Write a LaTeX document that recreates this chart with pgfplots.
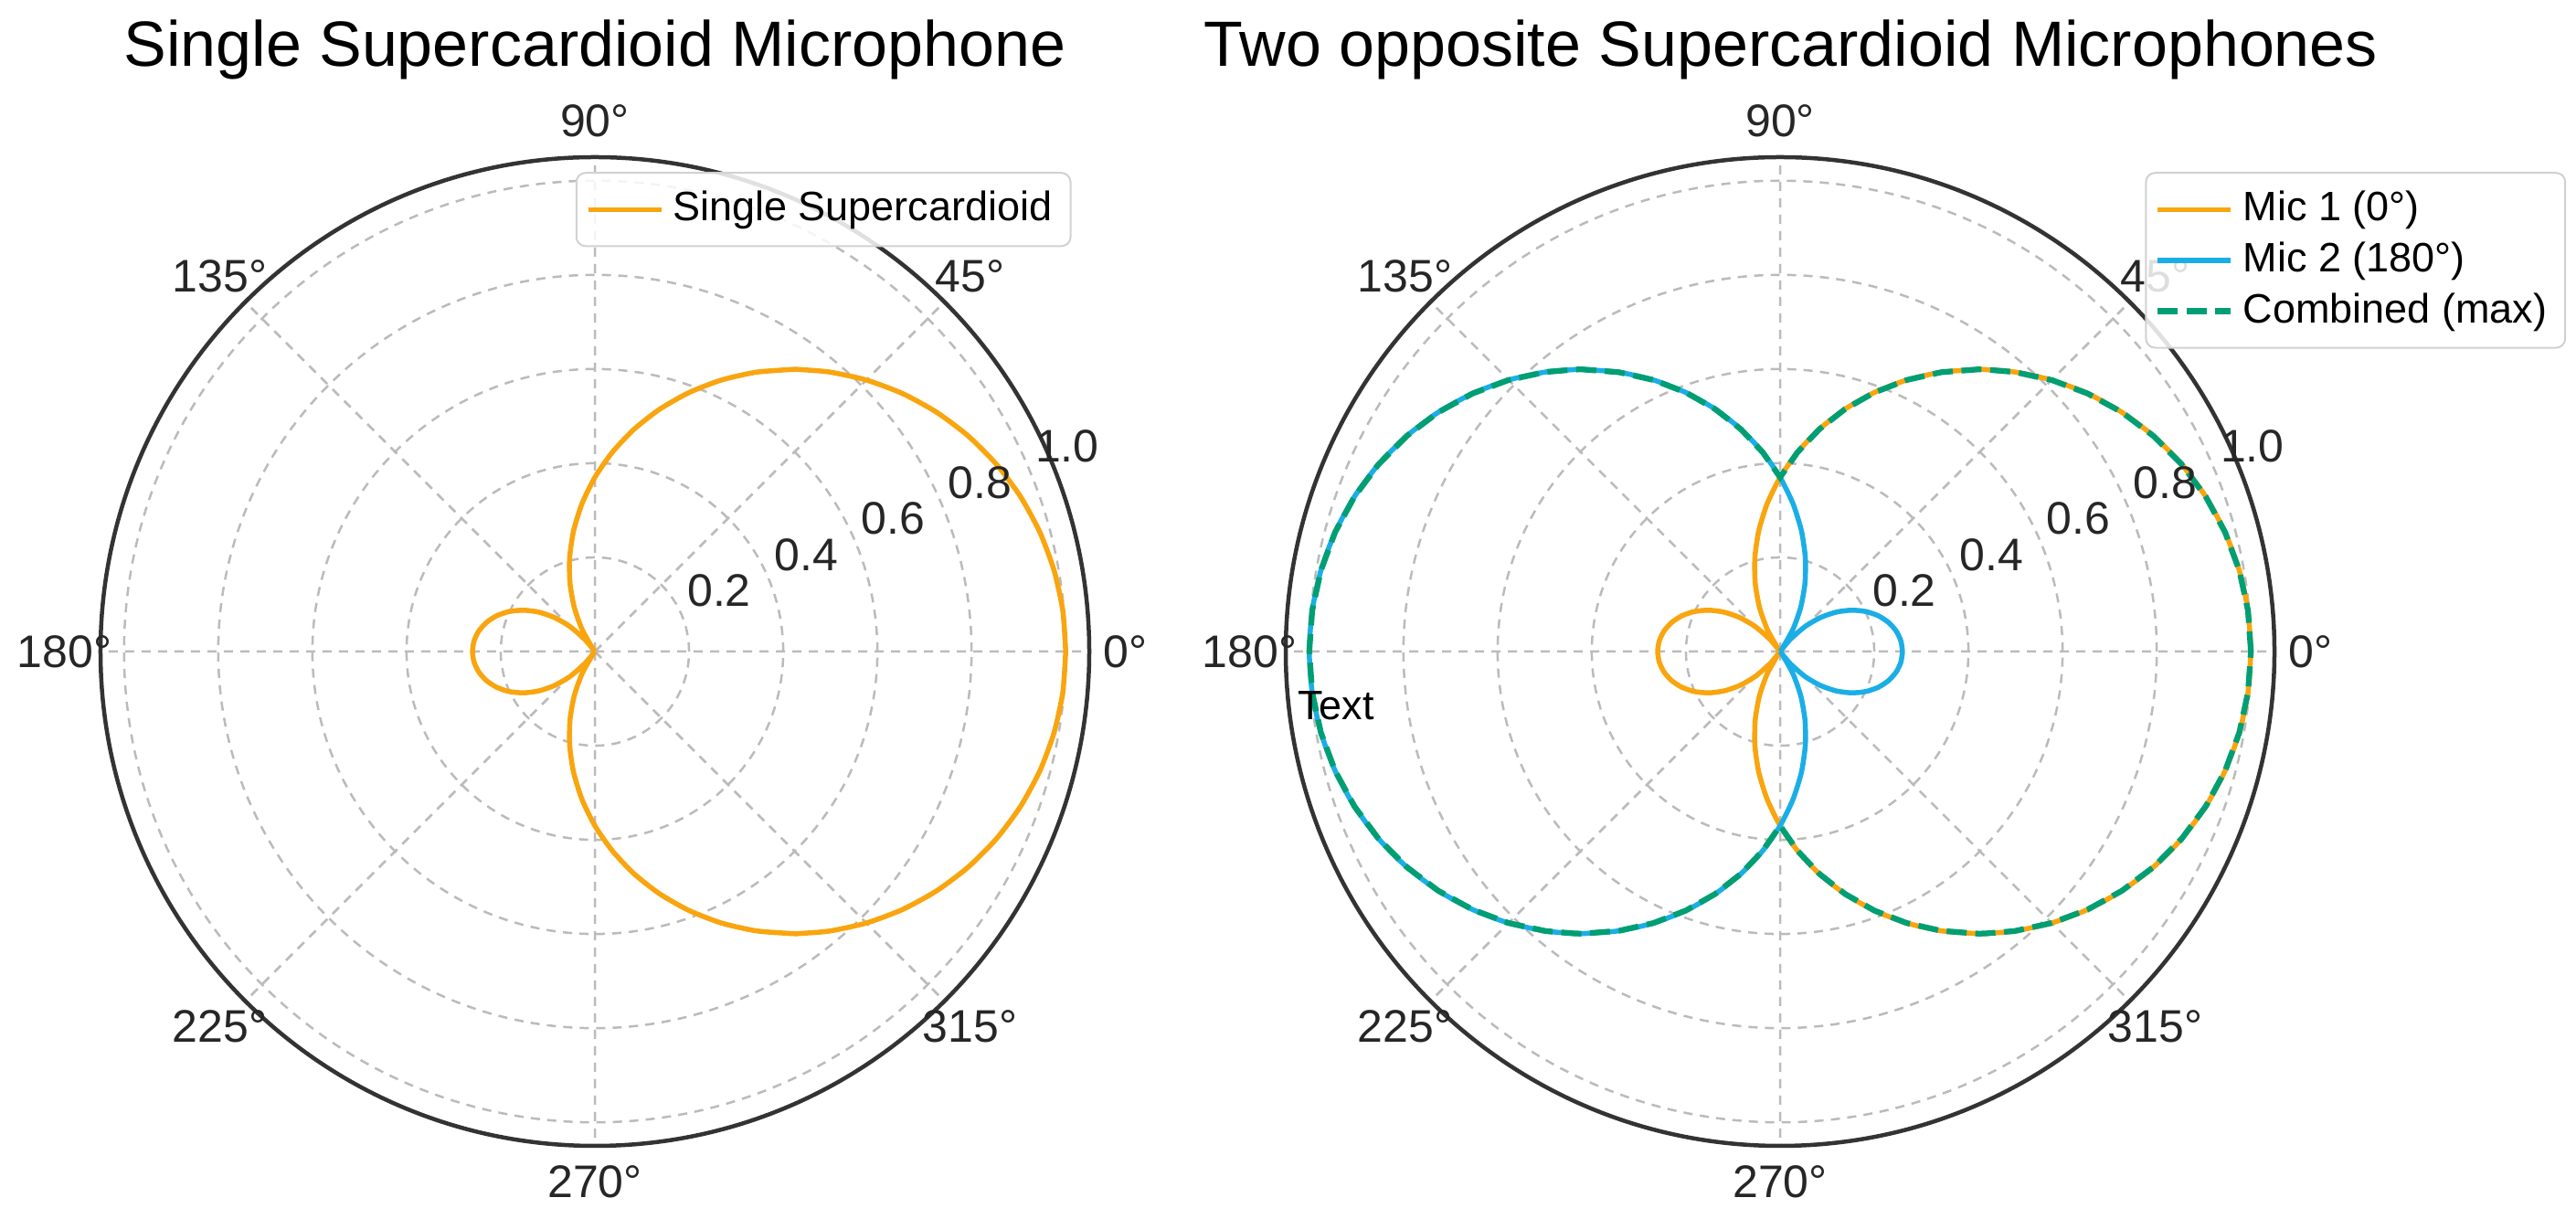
\documentclass[border=0pt]{standalone}
\usepackage{fontspec}
\setmainfont{Liberation Sans}
\usepackage{pgfplots}
\pgfplotsset{compat=1.18}
\usepackage{pgfplotstable}
\usepgfplotslibrary{polar}

\definecolor{micorange}{HTML}{F9A50F}
\definecolor{micblue}{HTML}{1BAEE6}
\definecolor{combgreen}{HTML}{009E73}
\definecolor{gridgray}{HTML}{BBBBBB}

% angle (deg), mic 1 (0 deg), mic 2 (180 deg), combined (max)
\pgfplotstableread{
a   m1     m2     comb
0   1.0000 0.2600 1.0000
5   0.9976 0.2576 0.9976
10  0.9904 0.2504 0.9904
15  0.9785 0.2385 0.9785
20  0.9620 0.2220 0.9620
25  0.9410 0.2010 0.9410
30  0.9156 0.1756 0.9156
35  0.8861 0.1461 0.8861
40  0.8526 0.1126 0.8526
45  0.8155 0.0755 0.8155
50  0.7750 0.0350 0.7750
54  0.7403 0.0000 0.7403
55  0.7314 0.0086 0.7314
60  0.6850 0.0550 0.6850
65  0.6363 0.1037 0.6363
70  0.5855 0.1545 0.5855
75  0.5331 0.2069 0.5331
80  0.4794 0.2606 0.4794
85  0.4249 0.3151 0.4249
90  0.3700 0.3700 0.3700
95  0.3151 0.4249 0.4249
100 0.2606 0.4794 0.4794
105 0.2069 0.5331 0.5331
110 0.1545 0.5855 0.5855
115 0.1037 0.6363 0.6363
120 0.0550 0.6850 0.6850
125 0.0086 0.7314 0.7314
126 0.0000 0.7403 0.7403
130 0.0350 0.7750 0.7750
135 0.0755 0.8155 0.8155
140 0.1126 0.8526 0.8526
145 0.1461 0.8861 0.8861
150 0.1756 0.9156 0.9156
155 0.2010 0.9410 0.9410
160 0.2220 0.9620 0.9620
165 0.2385 0.9785 0.9785
170 0.2504 0.9904 0.9904
175 0.2576 0.9976 0.9976
180 0.2600 1.0000 1.0000
185 0.2576 0.9976 0.9976
190 0.2504 0.9904 0.9904
195 0.2385 0.9785 0.9785
200 0.2220 0.9620 0.9620
205 0.2010 0.9410 0.9410
210 0.1756 0.9156 0.9156
215 0.1461 0.8861 0.8861
220 0.1126 0.8526 0.8526
225 0.0755 0.8155 0.8155
230 0.0350 0.7750 0.7750
234 0.0000 0.7403 0.7403
235 0.0086 0.7314 0.7314
240 0.0550 0.6850 0.6850
245 0.1037 0.6363 0.6363
250 0.1545 0.5855 0.5855
255 0.2069 0.5331 0.5331
260 0.2606 0.4794 0.4794
265 0.3151 0.4249 0.4249
270 0.3700 0.3700 0.3700
275 0.4249 0.3151 0.4249
280 0.4794 0.2606 0.4794
285 0.5331 0.2069 0.5331
290 0.5855 0.1545 0.5855
295 0.6363 0.1037 0.6363
300 0.6850 0.0550 0.6850
305 0.7314 0.0086 0.7314
306 0.7403 0.0000 0.7403
310 0.7750 0.0350 0.7750
315 0.8155 0.0755 0.8155
320 0.8526 0.1126 0.8526
325 0.8861 0.1461 0.8861
330 0.9156 0.1756 0.9156
335 0.9410 0.2010 0.9410
340 0.9620 0.2220 0.9620
345 0.9785 0.2385 0.9785
350 0.9904 0.2504 0.9904
355 0.9976 0.2576 0.9976
360 1.0000 0.2600 1.0000
}\pattern

\tikzset{
  rlab/.style={anchor=south west, inner sep=0pt, xshift=1pt, yshift=1.7pt,
    font=\fontsize{10}{12}\selectfont, text=black!85},
  alab/.style={anchor=center, inner sep=0pt,
    font=\fontsize{10}{12}\selectfont, text=black!85},
}
\pgfplotsset{
  micpolar/.style={
    anchor=center, scale only axis, width=216.4pt, height=216.4pt,
    xmin=0, xmax=360, ymin=0, ymax=1.05, clip=false,
    xtick={0,45,...,315}, xticklabels={},
    ytick={0.2,0.4,0.6,0.8,1.0}, yticklabels={},
    grid=major,
    major grid style={gridgray, line width=0.5pt, dash pattern=on 2pt off 1.6pt},
    major tick length=0pt,
    separate axis lines,
    x axis line style={black!80, line width=0.9pt},
    y axis line style={draw=none},
    legend cell align=left,
    legend style={font=\fontsize{9}{11}\selectfont, draw=black!18,
      rounded corners=2pt, fill=white, fill opacity=0.85, text opacity=1,
      anchor=north east, row sep=-0.9pt, inner xsep=2pt, inner ysep=2pt},
    legend image code/.code={\draw[#1] (0pt,0pt) -- (16pt,0pt);},
  },
}

\begin{document}
\begin{tikzpicture}
\path[use as bounding box] (0,0) rectangle (563.8pt,266.8pt);

\node[anchor=base, font=\fontsize{14}{16}\selectfont] at (130.2pt,252.2pt) {Single Supercardioid Microphone};
\node[anchor=base, font=\fontsize{14}{16}\selectfont] at (392pt,252.2pt) {Two opposite Supercardioid Microphones};

\begin{polaraxis}[micpolar, at={(130.2pt,124.2pt)},
  legend style={at={(0.982,0.985)}}]
\addplot[micorange, line width=1.1pt, smooth, tension=0.4] table[x=a, y=m1] {\pattern};
\addlegendentry{Single Supercardioid}
\node[alab] at (axis cs:0,1.127) {0°};
\node[alab] at (axis cs:45,1.127) {45°};
\node[alab] at (axis cs:90,1.127) {90°};
\node[alab] at (axis cs:135,1.127) {135°};
\node[alab] at (axis cs:180,1.127) {180°};
\node[alab] at (axis cs:225,1.127) {225°};
\node[alab] at (axis cs:270,1.127) {270°};
\node[alab] at (axis cs:315,1.127) {315°};
\node[rlab] at (axis cs:22.5,0.2) {0.2};
\node[rlab] at (axis cs:22.5,0.4) {0.4};
\node[rlab] at (axis cs:22.5,0.6) {0.6};
\node[rlab] at (axis cs:22.5,0.8) {0.8};
\node[rlab] at (axis cs:22.5,1.0) {1.0};
\end{polaraxis}

\begin{polaraxis}[micpolar, at={(389.6pt,124.2pt)},
  legend style={at={(1.295,0.985)}}]
\addplot[micorange, line width=1.1pt, smooth, tension=0.4] table[x=a, y=m1] {\pattern};
\addlegendentry{Mic 1 (0°)}
\addplot[micblue, line width=1.1pt, smooth, tension=0.4] table[x=a, y=m2] {\pattern};
\addlegendentry{Mic 2 (180°)}
\addplot[combgreen, line width=1.25pt, dash pattern=on 4.4pt off 1.9pt] table[x=a, y=comb] {\pattern};
\addlegendentry{Combined (max)}
\node[alab] at (axis cs:0,1.127) {0°};
\node[alab] at (axis cs:45,1.127) {45°};
\node[alab] at (axis cs:90,1.127) {90°};
\node[alab] at (axis cs:135,1.127) {135°};
\node[alab] at (axis cs:180,1.127) {180°};
\node[alab] at (axis cs:225,1.127) {225°};
\node[alab] at (axis cs:270,1.127) {270°};
\node[alab] at (axis cs:315,1.127) {315°};
\node[rlab] at (axis cs:22.5,0.2) {0.2};
\node[rlab] at (axis cs:22.5,0.4) {0.4};
\node[rlab] at (axis cs:22.5,0.6) {0.6};
\node[rlab] at (axis cs:22.5,0.8) {0.8};
\node[rlab] at (axis cs:22.5,1.0) {1.0};
\node[anchor=base west, inner sep=0pt, font=\fontsize{9}{11}\selectfont] at (axis cs:188,1.035) {Text};
\end{polaraxis}
\end{tikzpicture}
\end{document}
